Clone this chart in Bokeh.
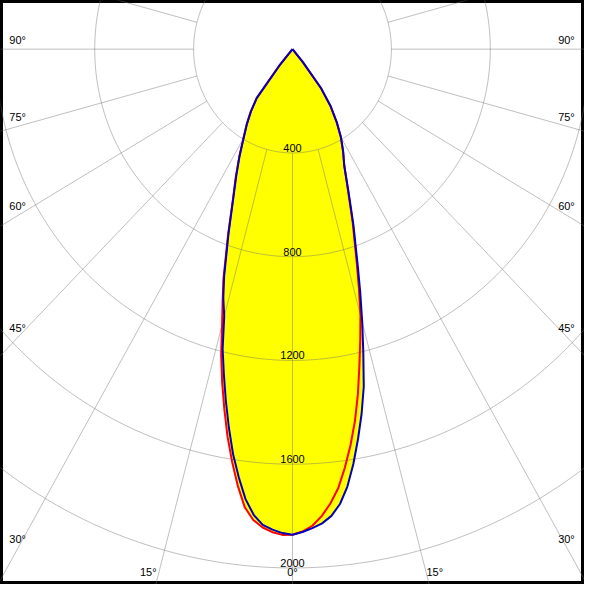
import numpy as np
from bokeh.plotting import figure
from bokeh.models import Range1d
from bokeh.core.properties import value
from bokeh.embed import file_html
from bokeh.resources import INLINE

# ---- data (luminous intensity, cd) ----
gamma = [0, 1.25, 2.5, 3.75, 5, 6.25, 7.5, 8.75, 10, 11.25, 12.5, 13.75, 15,
         16.25, 17.5, 20, 22.5, 25, 27.5, 30, 32.5, 35, 37.5, 40, 42.5, 45,
         60, 75, 90]
red_left = [1872, 1873, 1864, 1848, 1822, 1776, 1697, 1608, 1515, 1414, 1315,
            1214, 1101, 1010, 929, 762, 631, 543, 466, 397, 346, 295, 239, 85,
            0, 0, 0, 0, 0]
red_right = [1872, 1860, 1839, 1804, 1758, 1702, 1626, 1544, 1455, 1356, 1250,
             1153, 1062, 960, 865, 712, 585, 496, 442, 390, 331, 268, 188, 63,
             0, 0, 0, 0, 0]
blue_left = [1872, 1866, 1854, 1838, 1802, 1745, 1665, 1580, 1482, 1382, 1283,
             1189, 1067, 1000, 920, 757, 628, 538, 463, 395, 344, 293, 237, 82,
             0, 0, 0, 0, 0]
blue_right = [1872, 1862, 1848, 1832, 1806, 1764, 1701, 1618, 1526, 1433, 1332,
              1205, 1090, 980, 879, 720, 590, 495, 444, 392, 333, 270, 190, 65,
              0, 0, 0, 0, 0]

ring_values = [400, 800, 1200, 1600, 2000, 2400]
ring_labels = ["400", "800", "1200", "1600", "2000"]
side_angles = [90, 75, 60, 45, 30]
bottom_angles = [15, 0]

# ---- layout ----
W = H = 584
SX = 101.6 / 400.0   # reference px per cd (horizontal)
SY = 106.6 / 400.0   # reference px per cd (vertical)


def dx(px):
    return (px - 300.0) / SX


def dy(py):
    return -(py - 50.0) / SY


p = figure(width=W, height=H, x_range=Range1d(dx(0), dx(600)),
           y_range=Range1d(dy(600), dy(0)), output_backend="svg",
           toolbar_location=None, x_axis_type=None, y_axis_type=None,
           min_border=0)
p.background_fill_color = "white"
p.border_fill_color = "white"
p.outline_line_color = "black"
p.outline_line_width = 5


def curve(left, right):
    g = np.array(gamma, dtype=float)
    th = np.radians(np.concatenate([-g[::-1], g[1:]]))
    inten = np.concatenate([np.array(left[::-1], float), np.array(right[1:], float)])
    return inten * np.sin(th), -inten * np.cos(th)


rx, ry = curve(red_left, red_right)
bx, by = curve(blue_left, blue_right)

# yellow fill (union of both)
p.patch(rx, ry, fill_color="#ffff00", line_color=None)
p.patch(bx, by, fill_color="#ffff00", line_color=None)

# grid
GRID = "#707070"
GA = 0.45
t = np.linspace(0, 2 * np.pi, 721)
p.multi_line([list(r * np.cos(t)) for r in ring_values],
             [list(r * np.sin(t)) for r in ring_values],
             line_color=GRID, line_alpha=GA, line_width=1)
angs = np.radians(np.arange(-165, 181, 15))
r0, r1 = ring_values[0], 4000
p.multi_line([[r0 * np.sin(a), r1 * np.sin(a)] for a in angs],
             [[-r0 * np.cos(a), -r1 * np.cos(a)] for a in angs],
             line_color=GRID, line_alpha=GA, line_width=1)

# curves
p.line(list(rx) + [rx[0]], list(ry) + [ry[0]], line_color="#ff0000", line_width=2)
p.line(list(bx) + [bx[0]], list(by) + [by[0]], line_color="#0000c0", line_width=2)

FONT = value("Liberation Sans")
FS = "11px"

# ring labels
p.text(x=[0] * len(ring_labels), y=[-v for v in ring_values[:len(ring_labels)]],
       text=ring_labels, text_align="center", text_baseline="bottom",
       y_offset=-1, text_font=FONT, text_font_size=FS, text_color="black")

# side angle labels
xl = dx(18)
ys = []
for a in side_angles:
    if a >= 90:
        ys.append(0.0)
    else:
        ys.append(-abs(xl) / np.tan(np.radians(a)))
stext = [f"{a}°" for a in side_angles]
p.text(x=[dx(9)] * len(side_angles), y=ys, text=stext, text_align="left",
       text_baseline="bottom", y_offset=-3, text_font=FONT, text_font_size=FS,
       text_color="black")
p.text(x=[dx(590)] * len(side_angles), y=ys, text=stext, text_align="right",
       text_baseline="bottom", y_offset=-3, text_font=FONT, text_font_size=FS,
       text_color="black")

# bottom angle labels
yb = dy(593)
for a in bottom_angles:
    xa = abs(yb) * np.tan(np.radians(a))
    if a == 0:
        p.text(x=[0], y=[yb], text=[f"{a}°"], text_align="center",
               text_baseline="bottom", text_font=FONT, text_font_size=FS,
               text_color="black")
    else:
        p.text(x=[-xa], y=[yb], text=[f"{a}°"], text_align="right",
               text_baseline="bottom", x_offset=-1, text_font=FONT,
               text_font_size=FS, text_color="black")
        p.text(x=[xa], y=[yb], text=[f"{a}°"], text_align="left",
               text_baseline="bottom", x_offset=-1, text_font=FONT,
               text_font_size=FS, text_color="black")

open("out.html", "w").write(file_html(p, INLINE))
